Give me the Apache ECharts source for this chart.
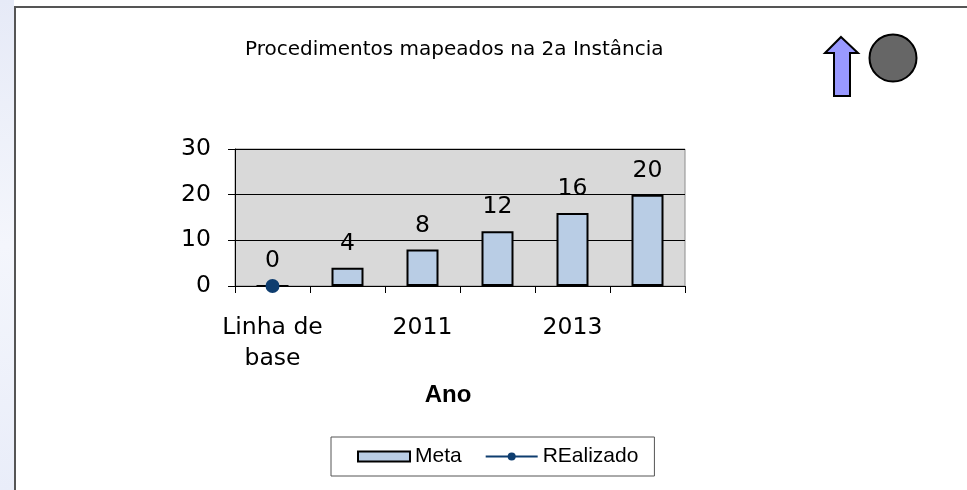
<!DOCTYPE html>
<html>
<head>
<meta charset="utf-8">
<script src="https://cdn.jsdelivr.net/npm/echarts@6/dist/echarts.min.js"></script>
<style>
  html, body { margin: 0; padding: 0; background: #fff; }
  #chart { width: 967px; height: 490px; }
</style>
</head>
<body>
<div id="chart"></div>
<script>
// dados do gráfico
const categories = ['Linha de\nbase', '2010', '2011', '2012', '2013', '2014'];
const metaValues = [0, 4, 8, 12, 16, 20];
const realizadoValues = [0, null, null, null, null, null];
const yTicks = { min: 0, max: 30, interval: 10 };

const FONT = '"Liberation Sans", Arial, sans-serif';
const WIDE = '"DejaVu Sans", sans-serif';

const chart = echarts.init(document.getElementById('chart'));

const option = {
  backgroundColor: '#ffffff',
  animation: false,
  title: {
    text: 'Procedimentos mapeados na 2a Instância',
    left: 240,
    top: 35,
    textStyle: { fontFamily: WIDE, fontSize: 20, fontWeight: 'normal', color: '#000' }
  },
  legend: {
    left: 331,
    top: 437,
    padding: [9, 16, 9, 26],
    itemGap: 23,
    itemWidth: 52,
    itemHeight: 10,
    borderColor: '#555',
    borderWidth: 1,
    textStyle: { fontFamily: FONT, fontSize: 21, color: '#000' },
    data: [
      { name: 'Meta', icon: 'rect' },
      { name: 'REalizado' }
    ]
  },
  grid: {
    left: 235,
    right: 282,
    top: 149,
    bottom: 204,
    show: true,
    backgroundColor: '#d9d9d9',
    borderColor: '#8c8c8c',
    borderWidth: 1
  },
  xAxis: {
    type: 'category',
    data: categories,
    name: 'Ano',
    nameLocation: 'middle',
    nameGap: 97,
    nameTextStyle: {
      fontFamily: FONT, fontSize: 24, fontWeight: 'bold', color: '#000',
      padding: [0, 24, 0, 0]
    },
    axisLine: { lineStyle: { color: '#000', width: 1 } },
    axisTick: { show: true, length: 7, interval: 0, lineStyle: { color: '#000' } },
    axisLabel: {
      interval: 1,
      margin: 26,
      fontFamily: WIDE,
      fontSize: 23.5,
      lineHeight: 31,
      color: '#000'
    },
    splitLine: { show: false }
  },
  yAxis: {
    type: 'value',
    min: yTicks.min,
    max: yTicks.max,
    interval: yTicks.interval,
    axisLine: { show: true, lineStyle: { color: '#000', width: 1 } },
    axisTick: { show: true, length: 7, lineStyle: { color: '#000' } },
    axisLabel: { margin: 24, fontFamily: WIDE, fontSize: 23.5, color: '#000' },
    splitLine: { show: true, lineStyle: { color: '#000', width: 1 } }
  },
  series: [
    {
      name: 'Meta',
      type: 'bar',
      data: metaValues,
      barWidth: 32,
      itemStyle: { color: '#b9cde5', borderColor: '#000', borderWidth: 2 },
      label: {
        show: true,
        position: 'top',
        distance: 12,
        fontFamily: WIDE,
        fontSize: 23.5,
        color: '#000'
      }
    },
    {
      name: 'REalizado',
      type: 'line',
      data: realizadoValues,
      symbol: 'circle',
      symbolSize: 14,
      lineStyle: { color: '#0e3d6f', width: 2 },
      itemStyle: { color: '#0e3d6f' },
      z: 5
    }
  ],
  graphic: [
    // faixa decorativa à esquerda
    {
      type: 'rect',
      left: 0, top: 0,
      shape: { width: 14, height: 490 },
      style: {
        fill: new echarts.graphic.LinearGradient(0, 0, 1, 1, [
          { offset: 0, color: '#e6eaf7' },
          { offset: 0.5, color: '#f4f6fc' },
          { offset: 1, color: '#e9edf9' }
        ])
      },
      silent: true
    },
    // moldura
    {
      type: 'polyline',
      shape: { points: [[15, 490], [15, 7], [967, 7]] },
      style: { stroke: '#555', lineWidth: 2, fill: null },
      silent: true
    },
    // seta
    {
      type: 'polygon',
      shape: {
        points: [[841, 37], [858, 53], [850, 53], [850, 96], [834, 96], [834, 53], [825, 53]]
      },
      style: { fill: '#9999ff', stroke: '#000', lineWidth: 2 },
      silent: true
    },
    // círculo
    {
      type: 'circle',
      shape: { cx: 893, cy: 58, r: 23.5 },
      style: { fill: '#666666', stroke: '#000', lineWidth: 2 },
      silent: true
    }
  ]
};

chart.setOption(option);
</script>
</body>
</html>
